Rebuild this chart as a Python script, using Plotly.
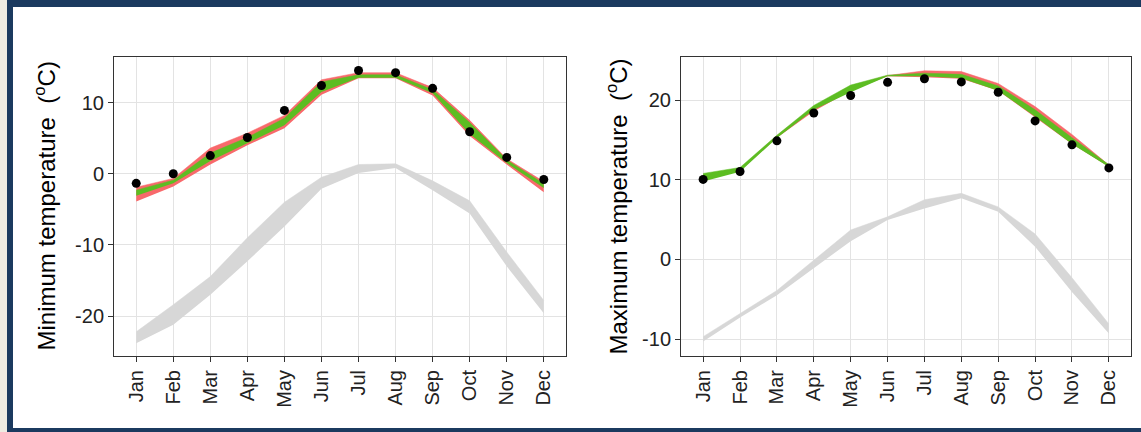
import plotly.graph_objects as go

months = ["Jan", "Feb", "Mar", "Apr", "May", "Jun", "Jul", "Aug", "Sep", "Oct", "Nov", "Dec"]

# Minimum temperature panel
min_obs = [-1.35, 0.0, 2.55, 5.1, 8.9, 12.4, 14.5, 14.2, 12.0, 5.9, 2.3, -0.8]
min_red_lo = [-3.9, -1.8, 1.3, 4.0, 6.4, 11.1, 13.4, 13.4, 11.0, 5.3, 1.3, -2.6]
min_red_hi = [-1.9, -0.65, 3.6, 5.7, 8.2, 13.2, 14.2, 14.2, 12.1, 7.5, 2.1, -1.1]
min_green_lo = [-3.1, -1.35, 1.8, 4.35, 6.8, 11.5, 13.5, 13.5, 11.3, 5.6, 1.5, -2.0]
min_green_hi = [-2.3, -0.9, 2.9, 5.1, 7.8, 12.9, 13.9, 13.9, 11.8, 7.2, 1.95, -1.4]
min_gray_lo = [-23.8, -21.2, -17.0, -12.3, -7.4, -2.1, 0.1, 0.8, -2.3, -5.6, -13.0, -19.6]
min_gray_hi = [-22.2, -18.4, -14.45, -9.0, -4.0, -0.5, 1.3, 1.4, -1.0, -3.8, -11.0, -17.8]
min_ticks = [-20, -10, 0, 10]
min_ticktext = ["-20", "-10", "0", "10"]

# Maximum temperature panel
max_obs = [10.05, 11.05, 14.9, 18.4, 20.6, 22.25, 22.7, 22.3, 21.0, 17.4, 14.4, 11.5]
max_red_lo = [10.0, 11.1, 15.3, 18.6, 21.2, 23.0, 22.9, 22.7, 21.2, 17.9, 14.5, 11.65]
max_red_hi = [10.6, 11.4, 15.55, 19.2, 21.7, 23.1, 23.7, 23.6, 22.1, 19.2, 15.7, 11.85]
max_green_lo = [9.8, 11.0, 15.25, 18.8, 21.0, 23.0, 23.0, 22.75, 21.2, 17.95, 14.5, 11.6]
max_green_hi = [10.8, 11.55, 15.6, 19.35, 21.9, 23.15, 23.4, 23.25, 21.8, 18.8, 15.3, 11.9]
max_gray_lo = [-10.3, -7.3, -4.5, -1.1, 2.3, 4.95, 6.4, 7.7, 6.0, 1.6, -4.1, -9.3]
max_gray_hi = [-9.7, -6.85, -3.9, -0.1, 3.7, 5.35, 7.5, 8.3, 6.6, 3.2, -2.3, -8.1]
max_ticks = [-10, 0, 10, 20]
max_ticktext = ["-10", "0", "10", "20"]

y_titles = ["Minimum temperature  (<sup>o</sup>C)", "Maximum temperature  (<sup>o</sup>C)"]

GRAY = "#d7d7d7"
RED = "#f8696b"
GREEN = "#5cbd22"
FONT = "Liberation Sans, Arial, sans-serif"

fig = go.Figure()


def add_band(lo, hi, color, xa, ya):
    fig.add_trace(go.Scatter(x=months, y=lo, mode="lines", line=dict(width=0, color=color),
                             showlegend=False, hoverinfo="skip", xaxis=xa, yaxis=ya))
    fig.add_trace(go.Scatter(x=months, y=hi, mode="lines", line=dict(width=0.5, color=color),
                             fill="tonexty", fillcolor=color, showlegend=False,
                             hoverinfo="skip", xaxis=xa, yaxis=ya))


panels = [
    ("x", "y", min_gray_lo, min_gray_hi, min_red_lo, min_red_hi, min_green_lo, min_green_hi, min_obs),
    ("x2", "y2", max_gray_lo, max_gray_hi, max_red_lo, max_red_hi, max_green_lo, max_green_hi, max_obs),
]
for xa, ya, glo, ghi, rlo, rhi, gnlo, gnhi, obs in panels:
    add_band(glo, ghi, GRAY, xa, ya)
    add_band(rlo, rhi, RED, xa, ya)
    add_band(gnlo, gnhi, GREEN, xa, ya)
    fig.add_trace(go.Scatter(x=months, y=obs, mode="markers",
                             marker=dict(size=9, color="black"), showlegend=False,
                             xaxis=xa, yaxis=ya))

W, H = 1141, 432
y_dom = [1 - 356 / H, 1 - 57 / H]

axis_common = dict(showgrid=True, gridcolor="#e3e3e3", gridwidth=1, showline=True, mirror=True,
                   linecolor="#333333", linewidth=1, ticks="outside", ticklen=5,
                   tickcolor="#333333", tickwidth=1, zeroline=False,
                   tickfont=dict(family=FONT, size=20, color="#222222"))

fig.update_layout(
    width=W, height=H,
    margin=dict(l=0, r=0, t=0, b=0, autoexpand=False),
    paper_bgcolor="white", plot_bgcolor="white",
    xaxis=dict(domain=[114 / W, 566 / W], type="category", range=[-0.6, 11.6],
               tickangle=-90, anchor="y", automargin=False, **axis_common),
    yaxis=dict(domain=y_dom, range=[-25.6, 16.4], tickmode="array", tickvals=min_ticks,
               ticktext=min_ticktext, anchor="x", automargin=False, **axis_common),
    xaxis2=dict(domain=[681 / W, 1131 / W], type="category", range=[-0.6, 11.6],
                tickangle=-90, anchor="y2", automargin=False, **axis_common),
    yaxis2=dict(domain=y_dom, range=[-12.13, 25.43], tickmode="array", tickvals=max_ticks,
                ticktext=max_ticktext, anchor="x2", automargin=False, **axis_common),
)

# y-axis titles
for xpos, title in zip([44 / W, 616 / W], y_titles):
    fig.add_annotation(text=title, xref="paper", yref="paper", x=xpos,
                       y=(y_dom[0] + y_dom[1]) / 2, textangle=-90, showarrow=False,
                       font=dict(family=FONT, size=24, color="black"),
                       xanchor="center", yanchor="middle")

# page frame
fig.add_shape(type="rect", xref="paper", yref="paper", x0=0, x1=7 / W, y0=0, y1=1,
              fillcolor="#eeece2", line=dict(width=0), layer="above")
fig.add_shape(type="rect", xref="paper", yref="paper", x0=7 / W, x1=13 / W, y0=0, y1=1,
              fillcolor="#1b3a5f", line=dict(width=0), layer="above")
fig.add_shape(type="rect", xref="paper", yref="paper", x0=7 / W, x1=1, y0=1 - 7 / H, y1=1,
              fillcolor="#1b3a5f", line=dict(width=0), layer="above")
fig.add_shape(type="rect", xref="paper", yref="paper", x0=7 / W, x1=1, y0=0, y1=4 / H,
              fillcolor="#1b3a5f", line=dict(width=0), layer="above")

fig.write_html("out.html", config={"displayModeBar": False},
               post_script="document.body.style.margin='0';document.body.style.overflow='hidden';")
